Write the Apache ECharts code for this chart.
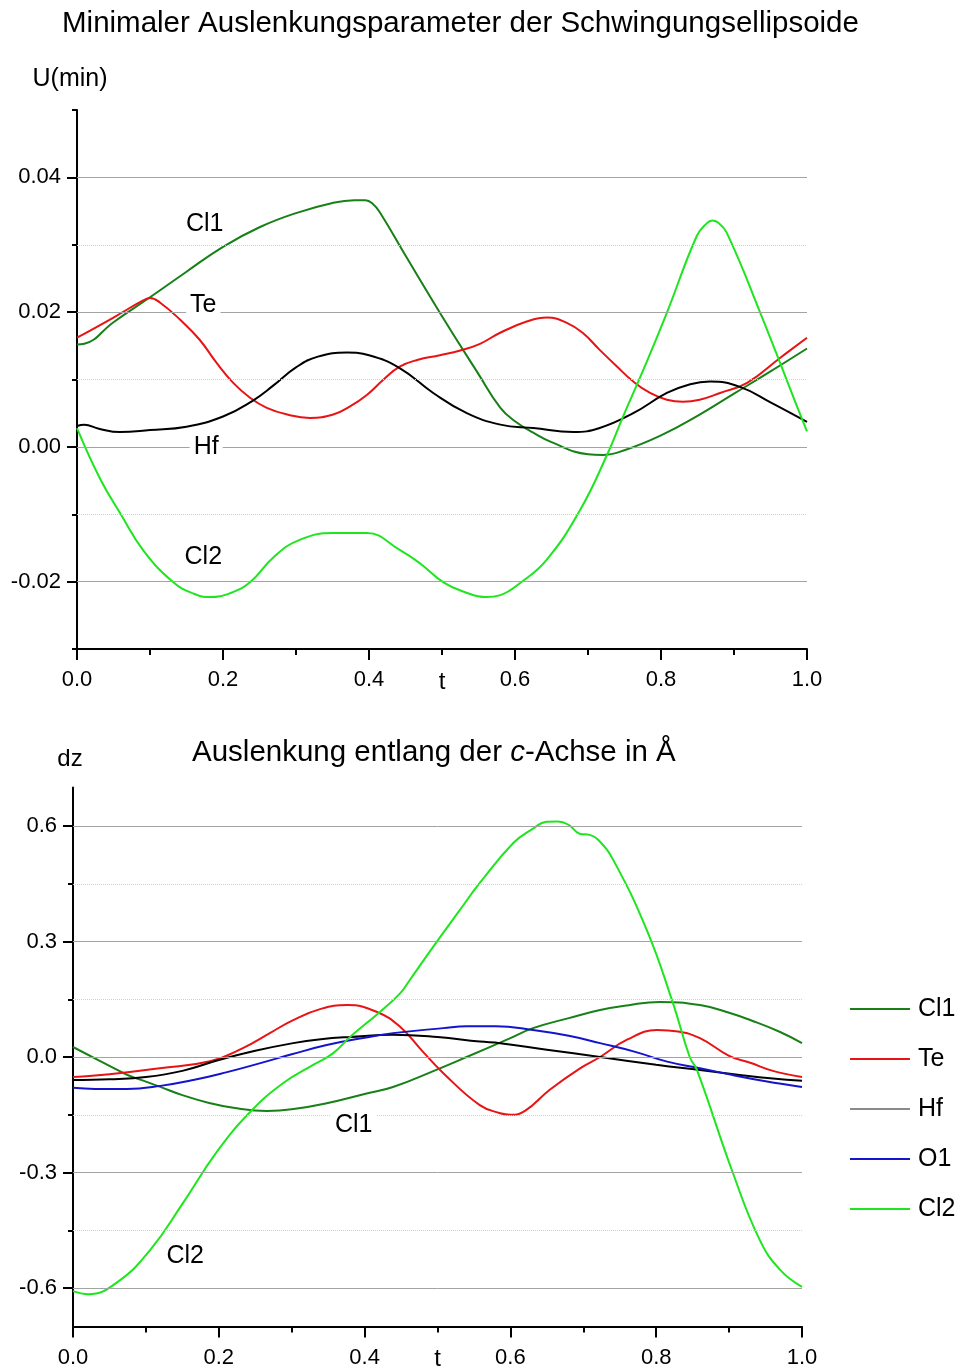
<!DOCTYPE html>
<html><head><meta charset="utf-8">
<script src="https://cdn.jsdelivr.net/npm/echarts@6/dist/echarts.min.js"></script>
<style>html,body{margin:0;padding:0;background:#fff}#c{width:960px;height:1367px}</style>
</head><body><div id="c"></div>
<script>
// ---------- Top chart: U(min) ----------
const tCl1Top = [0,0.01,0.05,0.1,0.15,0.2,0.25,0.3,0.35,0.38,0.395,0.405,0.415,0.45,0.5,0.55,0.58,0.6,0.625,0.65,0.7,0.72,0.75,0.8,0.85,0.9,0.95,1.0];
const vCl1Top = [0.0152,0.0153,0.0185,0.0222,0.0260,0.0297,0.0326,0.0347,0.0362,0.0366,0.0366,0.0361,0.0348,0.0284,0.0194,0.0108,0.0058,0.0038,0.0021,0.0007,-0.0011,-0.0012,-0.0005,0.0017,0.0046,0.0079,0.0112,0.0146];

const tTeTop = [0,0.05,0.09,0.1,0.114,0.141,0.168,0.191,0.214,0.237,0.26,0.288,0.319,0.351,0.374,0.397,0.42,0.442,0.466,0.497,0.525,0.552,0.579,0.616,0.644,0.671,0.693,0.716,0.74,0.762,0.785,0.808,0.83,0.853,0.881,0.918,0.963,1.0];
const vTeTop = [0.0162,0.0192,0.0217,0.0221,0.0214,0.0189,0.0159,0.0125,0.0095,0.0073,0.0058,0.0048,0.0043,0.0048,0.0060,0.0077,0.0100,0.0119,0.0129,0.0136,0.0143,0.0153,0.0169,0.0186,0.0192,0.0184,0.0169,0.0144,0.0119,0.0097,0.0080,0.0070,0.0067,0.0070,0.0080,0.0095,0.0132,0.0162];

const tHfTop = [0,0.01,0.03,0.059,0.1,0.15,0.2,0.24,0.27,0.3,0.33,0.37,0.4,0.442,0.488,0.534,0.58,0.625,0.68,0.716,0.762,0.808,0.84,0.867,0.908,0.95,1.0];
const vHfTop = [0.0031,0.0033,0.0027,0.0022,0.0025,0.0030,0.0045,0.0068,0.0092,0.0118,0.0134,0.0140,0.0136,0.0117,0.0080,0.0050,0.0033,0.0028,0.0022,0.0028,0.0050,0.0080,0.0093,0.0097,0.0089,0.0066,0.0037];

const tCl2Top = [0,0.032,0.06,0.091,0.132,0.16,0.182,0.21,0.237,0.27,0.305,0.351,0.397,0.442,0.47,0.502,0.53,0.56,0.58,0.607,0.643,0.689,0.726,0.748,0.78,0.808,0.849,0.862,0.87,0.878,0.89,0.936,0.99,1.0];
const vCl2Top = [0.0028,-0.0048,-0.0100,-0.0154,-0.0201,-0.0218,-0.0223,-0.0217,-0.0201,-0.0163,-0.0138,-0.0128,-0.0128,-0.0153,-0.0173,-0.0201,-0.0215,-0.0223,-0.0220,-0.0202,-0.0168,-0.0094,-0.0012,0.0045,0.0125,0.0199,0.0313,0.0331,0.0336,0.0333,0.0318,0.0199,0.0050,0.0023];

const topYMajor = [-0.02,0,0.02,0.04];
const topYMinor = [-0.03,-0.01,0.01,0.03,0.05];
const topGridMinor = [-0.01,0.01,0.03];
const topLabels = [['Cl1',0.175,0.0330],['Te',0.173,0.0210],['Hf',0.177,0.0],['Cl2',0.173,-0.0164]];

// ---------- Bottom chart: dz ----------
const tCl1Bot = [0,0.05,0.074,0.1,0.119,0.15,0.188,0.22,0.266,0.3,0.348,0.4,0.439,0.5,0.54,0.6,0.631,0.68,0.723,0.76,0.805,0.86,0.9,0.929,0.97,1.0];
const vCl1Bot = [0.026,-0.023,-0.046,-0.064,-0.077,-0.099,-0.120,-0.132,-0.140,-0.136,-0.120,-0.096,-0.078,-0.032,0.0,0.049,0.075,0.101,0.122,0.134,0.143,0.135,0.115,0.096,0.065,0.036];

const tTeBot = [0,0.05,0.119,0.188,0.233,0.27,0.302,0.34,0.376,0.417,0.449,0.478,0.508,0.558,0.586,0.6,0.62,0.654,0.695,0.723,0.76,0.801,0.83,0.86,0.9,0.929,0.96,1.0];
const vTeBot = [-0.052,-0.045,-0.029,-0.011,0.023,0.062,0.096,0.125,0.135,0.117,0.078,0.018,-0.042,-0.125,-0.146,-0.150,-0.140,-0.085,-0.030,0.0,0.045,0.070,0.066,0.049,0.003,-0.015,-0.036,-0.052];

const tHfBot = [0,0.05,0.1,0.15,0.2,0.25,0.302,0.34,0.38,0.439,0.5,0.558,0.586,0.65,0.723,0.8,0.86,0.92,0.96,1.0];
const vHfBot = [-0.060,-0.058,-0.052,-0.036,-0.008,0.016,0.036,0.046,0.052,0.058,0.052,0.040,0.036,0.019,0.0,-0.020,-0.034,-0.048,-0.056,-0.062];

const tO1Bot = [0,0.03,0.074,0.12,0.165,0.21,0.257,0.3,0.348,0.4,0.439,0.508,0.54,0.58,0.631,0.68,0.723,0.77,0.815,0.86,0.905,0.95,1.0];
const vO1Bot = [-0.080,-0.083,-0.083,-0.075,-0.060,-0.040,-0.016,0.007,0.031,0.050,0.062,0.075,0.080,0.080,0.070,0.055,0.036,0.014,-0.012,-0.029,-0.047,-0.063,-0.078];

const tCl2Bot = [0,0.021,0.06,0.106,0.151,0.197,0.243,0.288,0.33,0.357,0.38,0.421,0.449,0.462,0.494,0.53,0.558,0.604,0.63,0.65,0.665,0.68,0.695,0.709,0.72,0.741,0.787,0.823,0.846,0.856,0.905,0.942,0.97,1.0];
const vCl2Bot = [-0.608,-0.616,-0.586,-0.501,-0.379,-0.247,-0.143,-0.068,-0.020,0.010,0.052,0.117,0.166,0.200,0.286,0.380,0.452,0.556,0.592,0.611,0.612,0.603,0.580,0.577,0.565,0.512,0.330,0.140,0.0,-0.034,-0.300,-0.475,-0.553,-0.597];

const botYMajor = [-0.6,-0.3,0,0.3,0.6];
const botYMinor = [-0.45,-0.15,0.15,0.45];
const botGridMinor = [-0.45,-0.15,0.15,0.45];
const botLabels = [['Cl1',0.385,-0.177],['Cl2',0.154,-0.517]];

const legendNames = ['Cl1','Te','Hf','O1','Cl2'];

// ---------- styles ----------
const FONT = 'Liberation Sans, Arial, Helvetica, sans-serif';
const C = {Cl1:'#178017', Te:'#e81414', Hf:'#000000', O1:'#1414cc', Cl2:'#1ee61e'};
const black = {color:'#000', width:2};

function zip(t, v){ return t.map((x,i)=>[x, v[i]]); }

function xAx(g){
  return {gridIndex:g, type:'value', min:0, max:1, interval:0.2,
    axisLine:{show:true, onZero:false, lineStyle:black},
    axisTick:{show:true, length:11, lineStyle:black},
    minorTick:{show:true, splitNumber:2, length:6, lineStyle:black},
    axisLabel:{formatter:v=>v.toFixed(1), fontSize:22, color:'#000', margin:20, fontFamily:FONT},
    splitLine:{show:false}, minorSplitLine:{show:false},
    name:'t', nameLocation:'middle', nameGap:21, nameMoveOverlap:false,
    nameTextStyle:{fontSize:24, color:'#000', fontFamily:FONT}};
}
function yMain(g, min, max, major, digits, name, gap, pad, fs){
  return {gridIndex:g, type:'value', position:'left', offset:0, min:min, max:max,
    axisLine:{show:true, onZero:false, lineStyle:black},
    axisTick:{show:true, customValues:major, length:10, lineStyle:black},
    axisLabel:{show:true, customValues:major, formatter:v=>v.toFixed(digits), fontSize:22, color:'#000', margin:16, fontFamily:FONT},
    splitLine:{show:false},
    name:name, nameLocation:'end', nameGap:gap, nameMoveOverlap:false,
    nameTextStyle:{fontSize:fs, color:'#000', fontFamily:FONT, padding:pad}};
}
function yMinor(g, min, max, minor){
  return {gridIndex:g, type:'value', position:'left', offset:0, min:min, max:max,
    axisLine:{show:false, onZero:false},
    axisTick:{show:true, customValues:minor, length:5, lineStyle:black},
    axisLabel:{show:false}, splitLine:{show:false}};
}
function gridLines(xi, yi, major, minor){
  return {type:'line', xAxisIndex:xi, yAxisIndex:yi, data:[], z:1, silent:true,
    markLine:{silent:true, symbol:['none','none'], label:{show:false}, animation:false,
      data: major.map(v=>({yAxis:v, lineStyle:{color:'#a3a3a3', width:1, type:'solid'}}))
        .concat(minor.map(v=>({yAxis:v, lineStyle:{color:'#cfcfcf', width:1, type:'dotted'}})))}};
}
function curve(name, xi, yi, t, v){
  return {type:'line', name:name, xAxisIndex:xi, yAxisIndex:yi, data:zip(t,v),
    smooth:0.45, symbol:'none', showSymbol:false, z:2,
    lineStyle:{color:C[name], width:2}, itemStyle:{color:C[name]}};
}
function labels(xi, yi, arr){
  return {type:'scatter', xAxisIndex:xi, yAxisIndex:yi, z:5, silent:true, symbolSize:0,
    itemStyle:{color:'#ffffff', opacity:1},
    data: arr.map(l=>({name:l[0], value:[l[1], l[2]]})),
    label:{show:true, position:'inside', formatter:'{b}', fontSize:25, color:'#000000',
      opacity:1, textBorderWidth:0, fontFamily:FONT, backgroundColor:'#fff', padding:[0,4]},
    emphasis:{disabled:true}};
}

const chart = echarts.init(document.getElementById('c'));
chart.setOption({
  animation:false,
  backgroundColor:'#fff',
  textStyle:{fontFamily:FONT},
  title:[
    {text:'Minimaler Auslenkungsparameter der Schwingungsellipsoide', left:62, top:9, padding:0,
     textStyle:{fontSize:29.5, fontWeight:'normal', color:'#000', fontFamily:FONT}},
    {text:'{n|Auslenkung entlang der }{i|c}{n|-Achse in Å}', left:192, top:738, padding:0,
     textStyle:{fontWeight:'normal', fontSize:29.5,
       rich:{n:{fontSize:29.5, fontWeight:'normal', color:'#000', fontFamily:FONT},
             i:{fontSize:29.5, fontWeight:'normal', color:'#000', fontStyle:'italic', fontFamily:FONT}}}}
  ],
  legend:{orient:'vertical', left:850, top:996, padding:0, itemWidth:60, itemHeight:2, itemGap:24,
    selectedMode:false, icon:'rect',
    textStyle:{fontSize:25, color:'#000', fontFamily:FONT, lineHeight:26, padding:[0,0,0,3]},
    data:legendNames.map(n=> ({name:n, itemStyle:{color: n==='Hf' ? '#8a8a8a' : C[n]}}))},
  grid:[
    {left:77, top:110, width:730, height:539, outerBoundsMode:'none', containLabel:false},
    {left:73, top:787.5, width:729, height:539, outerBoundsMode:'none', containLabel:false}
  ],
  xAxis:[xAx(0), xAx(1)],
  yAxis:[
    yMain(0, -0.03, 0.05, topYMajor, 2, 'U(min)', 18, [0,14,0,0], 25),
    yMinor(0, -0.03, 0.05, topYMinor),
    yMain(1, -0.7, 0.7, botYMajor, 1, 'dz', 16, [0,6,0,0], 24),
    yMinor(1, -0.7, 0.7, botYMinor)
  ],
  series:[
    gridLines(0, 0, topYMajor, topGridMinor),
    curve('Cl1', 0, 0, tCl1Top, vCl1Top),
    curve('Te', 0, 0, tTeTop, vTeTop),
    curve('Hf', 0, 0, tHfTop, vHfTop),
    curve('Cl2', 0, 0, tCl2Top, vCl2Top),
    labels(0, 0, topLabels),
    gridLines(1, 2, botYMajor, botGridMinor),
    curve('Cl1', 1, 2, tCl1Bot, vCl1Bot),
    curve('Te', 1, 2, tTeBot, vTeBot),
    curve('Hf', 1, 2, tHfBot, vHfBot),
    curve('O1', 1, 2, tO1Bot, vO1Bot),
    curve('Cl2', 1, 2, tCl2Bot, vCl2Bot),
    labels(1, 2, botLabels)
  ]
});
</script></body></html>
